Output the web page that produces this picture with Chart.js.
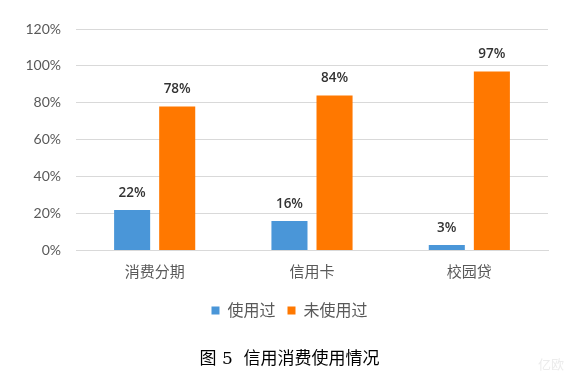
<!DOCTYPE html>
<html><head><meta charset="utf-8">
<script src="https://cdn.jsdelivr.net/npm/chart.js@4/dist/chart.umd.min.js"></script>
<style>html,body{margin:0;padding:0;background:#fff;}canvas{display:block;}</style>
</head><body>
<canvas id="c" width="579" height="382"></canvas>
<script>
const categories = ['消费分期', '信用卡', '校园贷'];
const usedValues = [22, 16, 3];
const unusedValues = [78, 84, 97];
const seriesNames = ['使用过', '未使用过'];
const captionText = '图 5  信用消费使用情况';

const FONT = "Lato, 'Noto Sans CJK SC', sans-serif";

const valueLabels = {
  id: 'valueLabels',
  afterDatasetsDraw(chart) {
    const ctx = chart.ctx;
    ctx.save();
    ctx.font = "600 13.5px 'Open Sans', sans-serif";
    ctx.fillStyle = '#333333';
    ctx.textAlign = 'center';
    ctx.textBaseline = 'middle';
    chart.data.datasets.forEach((ds, i) => {
      const meta = chart.getDatasetMeta(i);
      meta.data.forEach((bar, j) => {
        ctx.fillText(ds.data[j] + '%', bar.x, bar.y - 17);
      });
    });
    ctx.restore();
  }
};

const watermark = {
  id: 'watermark',
  afterDraw(chart) {
    const ctx = chart.ctx;
    ctx.save();
    ctx.font = "13px 'Noto Sans CJK SC', sans-serif";
    ctx.fillStyle = '#ececec';
    ctx.textAlign = 'center';
    ctx.textBaseline = 'middle';
    ctx.fillText('亿欧', 551, 364);
    ctx.restore();
  }
};

new Chart(document.getElementById('c'), {
  type: 'bar',
  data: {
    labels: categories,
    datasets: [
      { label: seriesNames[0], data: usedValues, backgroundColor: '#4a96d8', categoryPercentage: 0.573, barPercentage: 0.8 },
      { label: seriesNames[1], data: unusedValues, backgroundColor: '#ff7800', categoryPercentage: 0.573, barPercentage: 0.8 }
    ]
  },
  options: {
    responsive: false,
    animation: false,
    layout: { padding: { top: 29, right: 0, left: 0, bottom: 0 } },
    scales: {
      x: {
        grid: { display: false, drawTicks: false },
        border: { display: true, color: '#d9d9d9', width: 1 },
        ticks: { padding: 13, color: '#595959', font: { family: FONT, size: 15 } },
        afterFit(s) { s.height = 40; }
      },
      y: {
        min: 0, max: 120,
        grid: { color: '#d9d9d9', drawTicks: false },
        border: { display: false },
        ticks: { stepSize: 20, padding: 15, color: '#595959', font: { family: FONT, size: 14 }, callback: v => v + '%' },
        afterFit(s) { s.width = 76; }
      },
      yRight: {
        position: 'right',
        min: 0, max: 120,
        grid: { display: false, drawTicks: false },
        border: { display: false },
        ticks: { display: false },
        afterFit(s) { s.width = 31; }
      }
    },
    plugins: {
      legend: {
        position: 'bottom',
        labels: { boxWidth: 8, boxHeight: 8, padding: 12, color: '#595959', font: { family: FONT, size: 16 } }
      },
      title: {
        display: true,
        position: 'bottom',
        text: captionText,
        color: '#000',
        font: { family: "'DejaVu Serif', 'Noto Sans CJK SC', serif", size: 17, weight: 'normal' },
        padding: { top: 21, bottom: 12 }
      },
      tooltip: { enabled: false }
    }
  },
  plugins: [valueLabels, watermark]
});
</script>
</body></html>
